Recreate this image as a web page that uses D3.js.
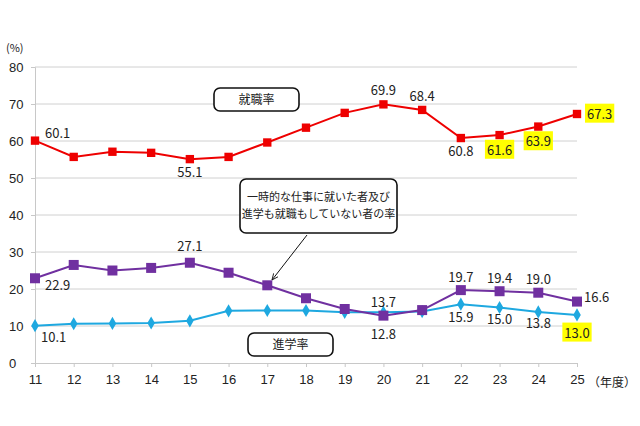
<!DOCTYPE html>
<html>
<head>
<meta charset="utf-8">
<script src="https://cdn.jsdelivr.net/npm/d3@7"></script>
<style>
  body { margin: 0; background: #fff; }
  svg { font-family: "Noto Sans CJK JP", "Noto Sans", sans-serif; }
</style>
</head>
<body>
<div id="chart"></div>
<script>
// 年度
const years = [11, 12, 13, 14, 15, 16, 17, 18, 19, 20, 21, 22, 23, 24, 25];
// 就職率
const employed = [60.1, 55.7, 57.1, 56.8, 55.1, 55.7, 59.6, 63.6, 67.6, 69.9, 68.4, 60.8, 61.6, 63.9, 67.3];
// 一時的な仕事に就いた者及び進学も就職もしていない者の率
const other = [22.9, 26.5, 25.0, 25.7, 27.1, 24.4, 21.0, 17.5, 14.6, 12.8, 14.3, 19.7, 19.4, 19.0, 16.6];
// 進学率
const further = [10.1, 10.6, 10.7, 10.8, 11.4, 14.1, 14.2, 14.2, 13.7, 13.7, 13.9, 15.9, 15.0, 13.8, 13.0];
const yTicks = [0, 10, 20, 30, 40, 50, 60, 70, 80];

// labelled years and which ones are highlighted
const employedLabelYears = [11, 15, 20, 21, 22, 23, 24, 25];
const employedHighlight = [23, 24, 25];
const otherLabelYears = [11, 15, 20, 22, 23, 24, 25];
const furtherLabelYears = [11, 20, 22, 23, 24, 25];
const furtherHighlight = [25];

// label placement relative to the point: [anchor, dx, dy]
const employedPlace = [["start", 10, -7], ["middle", 0, 13], ["middle", 0, -14], ["middle", 0, -14],
                       ["middle", 0, 13], ["middle", 0, 15], ["middle", 0, 15], ["start", 10, 0]];
const otherPlace = [["start", 10, 7], ["middle", 0, -16], ["middle", 0, 19], ["middle", 0, -13],
                    ["middle", 0, -13], ["middle", 0, -13], ["start", 7, -4]];
const furtherPlace = [["start", 6, 12], ["middle", 0, -10], ["middle", 0, 13], ["middle", 0, 12],
                      ["middle", 0, 11], ["middle", 0, 18]];

const width = 640, height = 426;
const margin = { top: 67, right: 63, bottom: 63, left: 35 };

const svg = d3.select("#chart").append("svg")
    .attr("width", width)
    .attr("height", height);

const x = d3.scaleLinear().domain([11, 25]).range([margin.left, width - margin.right]);
const y = d3.scaleLinear().domain([0, 80]).range([height - margin.bottom, margin.top]);

// gridlines
svg.append("g")
   .selectAll("line")
   .data(yTicks.filter(d => d > 0))
   .enter().append("line")
   .attr("x1", x(11)).attr("x2", x(25))
   .attr("y1", d => y(d)).attr("y2", d => y(d))
   .attr("stroke", "#d0d0d0").attr("stroke-width", 1);

// y axis
const yAxis = svg.append("g")
   .attr("transform", `translate(${x(11)},0)`)
   .call(d3.axisLeft(y).tickValues(yTicks).tickSize(4).tickPadding(6));
yAxis.select(".domain").attr("stroke", "#c8c8c8");
yAxis.selectAll(".tick line").attr("stroke", "#c8c8c8");
yAxis.selectAll(".tick text").attr("font-size", 13).attr("fill", "#222")
   .attr("text-anchor", "start").attr("x", -26);

// x axis
const xAxis = svg.append("g")
   .attr("transform", `translate(0,${y(0)})`)
   .call(d3.axisBottom(x).tickValues(years).tickFormat(d3.format("d")).tickSize(4).tickPadding(8));
xAxis.select(".domain").attr("stroke", "#c8c8c8");
xAxis.selectAll(".tick line").attr("stroke", "#c8c8c8");
xAxis.selectAll(".tick text").attr("font-size", 13).attr("fill", "#222");

svg.append("text").attr("x", 6).attr("y", 52).attr("font-size", 11).attr("fill", "#222").text("(%)");
svg.append("text").attr("x", 588).attr("y", 387).attr("font-size", 12).attr("fill", "#222").text("（年度）");

// callout boxes
function box(x0, y0, w, h, lines) {
  svg.append("rect").attr("x", x0).attr("y", y0).attr("width", w).attr("height", h)
     .attr("rx", 6).attr("fill", "#fff").attr("stroke", "#111").attr("stroke-width", 1.6);
  lines.forEach((t, i) => {
    svg.append("text")
       .attr("x", x0 + w / 2)
       .attr("y", y0 + h / 2 + (i - (lines.length - 1) / 2) * 17)
       .attr("dy", "0.36em")
       .attr("text-anchor", "middle")
       .attr("font-size", lines.length > 1 ? 11 : 12)
       .attr("fill", "#222")
       .text(t);
  });
}
box(214, 88, 85, 23, ["就職率"]);
box(248, 333, 85, 23, ["進学率"]);
box(240, 179, 157, 54, ["一時的な仕事に就いた者及び", "進学も就職もしていない者の率"]);

// arrow
svg.append("defs").append("marker")
   .attr("id", "arrow").attr("viewBox", "0 0 10 10").attr("refX", 9).attr("refY", 5)
   .attr("markerWidth", 7).attr("markerHeight", 7).attr("orient", "auto")
   .append("path").attr("d", "M0,1 L9,5 L0,9").attr("fill", "none").attr("stroke", "#111").attr("stroke-width", 1.2);
svg.append("line").attr("x1", 307).attr("y1", 235).attr("x2", 272).attr("y2", 280)
   .attr("stroke", "#111").attr("stroke-width", 1).attr("marker-end", "url(#arrow)");

const line = d3.line().x((d, i) => x(years[i])).y(d => y(d));

function drawSeries(values, color, symbol, size) {
  svg.append("path").datum(values)
     .attr("d", line).attr("fill", "none").attr("stroke", color).attr("stroke-width", 2);
  svg.append("g").selectAll("path")
     .data(values).enter().append("path")
     .attr("transform", (d, i) => `translate(${x(years[i])},${y(d)})`)
     .attr("d", d3.symbol().type(symbol).size(size))
     .attr("fill", color);
}
drawSeries(further, "#1ea8e0", d3.symbolDiamond, 50);
drawSeries(other, "#7030a0", d3.symbolSquare, 100);
drawSeries(employed, "#ee0000", d3.symbolSquare, 70);

function drawLabels(values, labelYears, place, highlight) {
  labelYears.forEach((yr, k) => {
    const i = years.indexOf(yr);
    const [anchor, dx, dy] = place[k];
    const t = svg.append("text")
       .attr("x", x(yr) + dx).attr("y", y(values[i]) + dy).attr("dy", "0.36em")
       .attr("text-anchor", anchor).attr("font-size", 13).attr("fill", "#222")
       .text(values[i].toFixed(1));
    if (highlight.includes(yr)) {
      const b = t.node().getBBox();
      svg.insert("rect", () => t.node())
         .attr("x", b.x - 2).attr("y", b.y).attr("width", b.width + 4).attr("height", b.height)
         .attr("fill", "#ffff00");
    }
  });
}
drawLabels(employed, employedLabelYears, employedPlace, employedHighlight);
drawLabels(other, otherLabelYears, otherPlace, []);
drawLabels(further, furtherLabelYears, furtherPlace, furtherHighlight);
</script>
</body>
</html>
